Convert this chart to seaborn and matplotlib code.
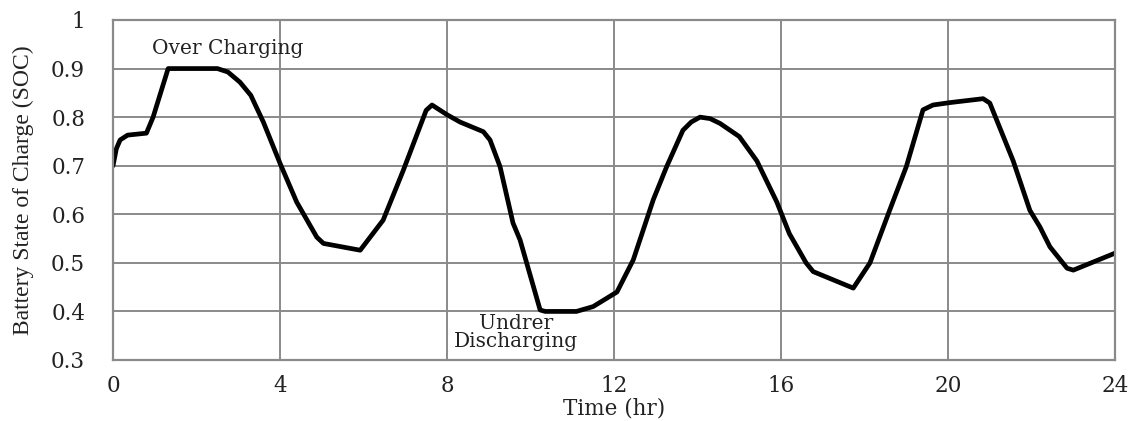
import pandas as pd
import matplotlib.pyplot as plt
import seaborn as sns

# battery SOC over one day
time_hr = [0, 0.08, 0.17, 0.35, 0.8, 0.96, 1.32, 2.5, 2.75, 3.04, 3.3, 3.6, 4.0,
           4.4, 4.88, 5.04, 5.92, 6.47, 6.95, 7.5, 7.64, 8.0, 8.31, 8.87, 9.03,
           9.27, 9.58, 9.75, 10.23, 10.35, 11.1, 11.5, 12.07, 12.46, 12.94, 13.26,
           13.65, 13.85, 14.06, 14.3, 14.54, 15.0, 15.42, 15.9, 16.2, 16.6, 16.77,
           17.73, 18.13, 18.6, 19.0, 19.4, 19.64, 20.05, 20.84, 21.0, 21.56, 21.96,
           22.2, 22.44, 22.85, 23.0, 24.0]
soc = [0.70, 0.735, 0.753, 0.763, 0.767, 0.80, 0.90, 0.90, 0.893, 0.872, 0.845, 0.79, 0.705,
       0.625, 0.553, 0.54, 0.526, 0.588, 0.69, 0.814, 0.825, 0.805, 0.79, 0.77, 0.753,
       0.698, 0.582, 0.547, 0.403, 0.40, 0.40, 0.41, 0.44, 0.506, 0.63, 0.698,
       0.773, 0.79, 0.80, 0.797, 0.787, 0.76, 0.71, 0.625, 0.56, 0.50, 0.482,
       0.448, 0.50, 0.608, 0.698, 0.815, 0.825, 0.83, 0.838, 0.829, 0.71, 0.608,
       0.574, 0.533, 0.489, 0.485, 0.52]

x_ticks = [0, 4, 8, 12, 16, 20, 24]
y_ticks = [0.3, 0.4, 0.5, 0.6, 0.7, 0.8, 0.9, 1.0]
y_tick_labels = ["0.3", "0.4", "0.5", "0.6", "0.7", "0.8", "0.9", "1"]

df = pd.DataFrame({"time": time_hr, "soc": soc})

sns.set_theme(style="white")
plt.rcParams["font.family"] = ["DejaVu Serif"]

fig = plt.figure(figsize=(11.37, 4.21), dpi=100)
ax = fig.add_axes([0.0994, 0.1449, 0.8813, 0.8076])

sns.lineplot(data=df, x="time", y="soc", ax=ax, color="black", linewidth=3.4,
             estimator=None, sort=False)

ax.set_xlim(0, 24)
ax.set_ylim(0.3, 1.0)
ax.set_xticks(x_ticks)
ax.set_yticks(y_ticks)
ax.set_yticklabels(y_tick_labels)
ax.grid(True, color="#8a8a8a", linewidth=1.4)
for s in ax.spines.values():
    s.set_color("#8a8a8a")
    s.set_linewidth(1.6)
ax.tick_params(axis="x", length=0, pad=11, labelsize=15.5, colors="#222222")
ax.tick_params(axis="y", length=0, pad=20, labelsize=15.5, colors="#222222")

ax.set_xlabel("Time (hr)", fontsize=15.5, labelpad=0, color="#222222")
ax.set_ylabel("Battery State of Charge (SOC)", fontsize=17, labelpad=12,
              family=["Liberation Serif"], color="#222222")

ax.text(0.93, 0.942, "Over Charging", fontsize=14.5, va="center", ha="left",
        color="#222222")
ax.text(9.65, 0.356, "Undrer\nDischarging", fontsize=14.5, va="center", ha="center",
        linespacing=0.95, color="#222222")

plt.savefig("out.png", dpi=100)
plt.close()
